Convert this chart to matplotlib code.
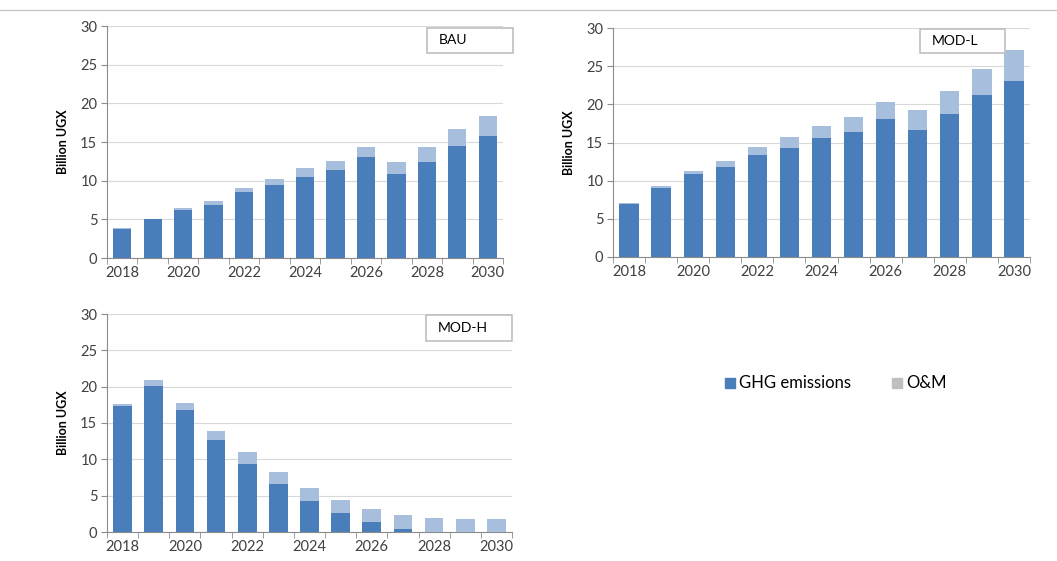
import matplotlib
matplotlib.use("Agg")
import matplotlib.pyplot as plt
from matplotlib.patches import Rectangle
import numpy as np

years = [2018, 2019, 2020, 2021, 2022, 2023, 2024, 2025, 2026, 2027, 2028, 2029, 2030]
tick_labels = ["2018", "2020", "2022", "2024", "2026", "2028", "2030"]

bau_ghg = [3.75, 5.0, 6.25, 6.9, 8.5, 9.5, 10.5, 11.35, 13.0, 10.8, 12.4, 14.5, 15.8]
bau_total = [3.9, 5.1, 6.5, 7.35, 9.0, 10.2, 11.6, 12.6, 14.4, 12.4, 14.4, 16.7, 18.35]

modl_ghg = [7.0, 9.0, 10.9, 11.85, 13.4, 14.25, 15.6, 16.4, 18.05, 16.65, 18.7, 21.25, 23.1]
modl_total = [7.05, 9.3, 11.3, 12.55, 14.4, 15.7, 17.1, 18.4, 20.3, 19.3, 21.8, 24.6, 27.1]

modh_ghg = [17.4, 20.1, 16.75, 12.6, 9.4, 6.55, 4.25, 2.55, 1.35, 0.45, 0.0, 0.0, 0.0]
modh_total = [17.55, 20.85, 17.75, 13.95, 10.95, 8.2, 6.0, 4.35, 3.1, 2.3, 1.9, 1.75, 1.75]

series_names = ["GHG emissions", "O&M"]
scenario_names = ["BAU", "MOD-L", "MOD-H"]

C_GHG = "#4A7EBB"
C_OM = "#A7BFDD"
GRID = "#D9D9D9"
AXC = "#8C8C8C"
TXT = "#404040"

W, H = 1057, 561
fig = plt.figure(figsize=(W / 100, H / 100), dpi=100)
plt.rcParams['font.family'] = ['Lato', 'DejaVu Sans']

def px_axes(l, t, r, b):
    return fig.add_axes([l / W, 1 - b / H, (r - l) / W, (b - t) / H])

# thin line at top
fig.add_artist(plt.Line2D([0, 1], [1 - 10 / H, 1 - 10 / H], color="#C8C8C8", lw=1.0))

panels = [
    (scenario_names[0], bau_ghg, bau_total, (107, 26, 503, 258), (427, 28, 513, 53)),
    (scenario_names[1], modl_ghg, modl_total, (613, 28, 1030, 257), (920, 29, 1005, 53)),
    (scenario_names[2], modh_ghg, modh_total, (107, 314, 512, 532), (426, 315, 512, 341)),
]

for name, ghg, total, (l, t, r, b), (bl, bt, br, bb) in panels:
    ax = px_axes(l, t, r, b)
    x = np.arange(len(years))
    om = np.array(total) - np.array(ghg)
    ax.bar(x, ghg, width=0.6, color=C_GHG, zorder=3)
    ax.bar(x, om, bottom=ghg, width=0.6, color=C_OM, zorder=3)
    ax.set_xlim(-0.5, len(years) - 0.5)
    ax.set_ylim(0, 30)
    ax.set_yticks([0, 5, 10, 15, 20, 25, 30])
    ax.yaxis.grid(True, color=GRID, lw=0.8, zorder=0)
    ax.set_axisbelow(True)
    for s in ["top", "right"]:
        ax.spines[s].set_visible(False)
    for s in ["left", "bottom"]:
        ax.spines[s].set_color(AXC)
        ax.spines[s].set_linewidth(0.8)
    ax.set_xticks(np.arange(0, len(years), 2))
    ax.set_xticklabels(tick_labels)
    ax.set_xticks(np.arange(-0.5, len(years), 1), minor=True)
    ax.tick_params(axis="x", which="major", length=0, labelsize=10.5, labelcolor=TXT, pad=6)
    ax.tick_params(axis="x", which="minor", length=4, color=AXC, direction="out")
    ax.tick_params(axis="y", length=4, color=AXC, labelsize=10.5, labelcolor=TXT, pad=3)
    ax.set_ylabel("Billion UGX", fontsize=9, fontweight="bold", color="black", labelpad=8)
    # scenario label box
    fig.add_artist(Rectangle((bl / W, 1 - bb / H), (br - bl) / W, (bb - bt) / H,
                             transform=fig.transFigure, facecolor="white",
                             edgecolor="#BFBFBF", lw=1.2, zorder=5))
    fig.text((bl + 12) / W, 1 - ((bt + bb) / 2) / H, name, fontsize=10,
             color="black", va="center", ha="left", zorder=6)

# legend
lx, ly = 730, 383
fig.add_artist(Rectangle(((lx - 5) / W, 1 - (ly + 5) / H), 10 / W, 10 / H,
                         transform=fig.transFigure, color=C_GHG))
fig.text((lx + 9) / W, 1 - ly / H, series_names[0], fontsize=12, color="black", va="center")
ox = 897
fig.add_artist(Rectangle(((ox - 5) / W, 1 - (ly + 5) / H), 10 / W, 10 / H,
                         transform=fig.transFigure, color="#BFBFBF"))
fig.text((ox + 9) / W, 1 - ly / H, series_names[1], fontsize=12, color="black", va="center")

fig.savefig("out.png", dpi=100)
